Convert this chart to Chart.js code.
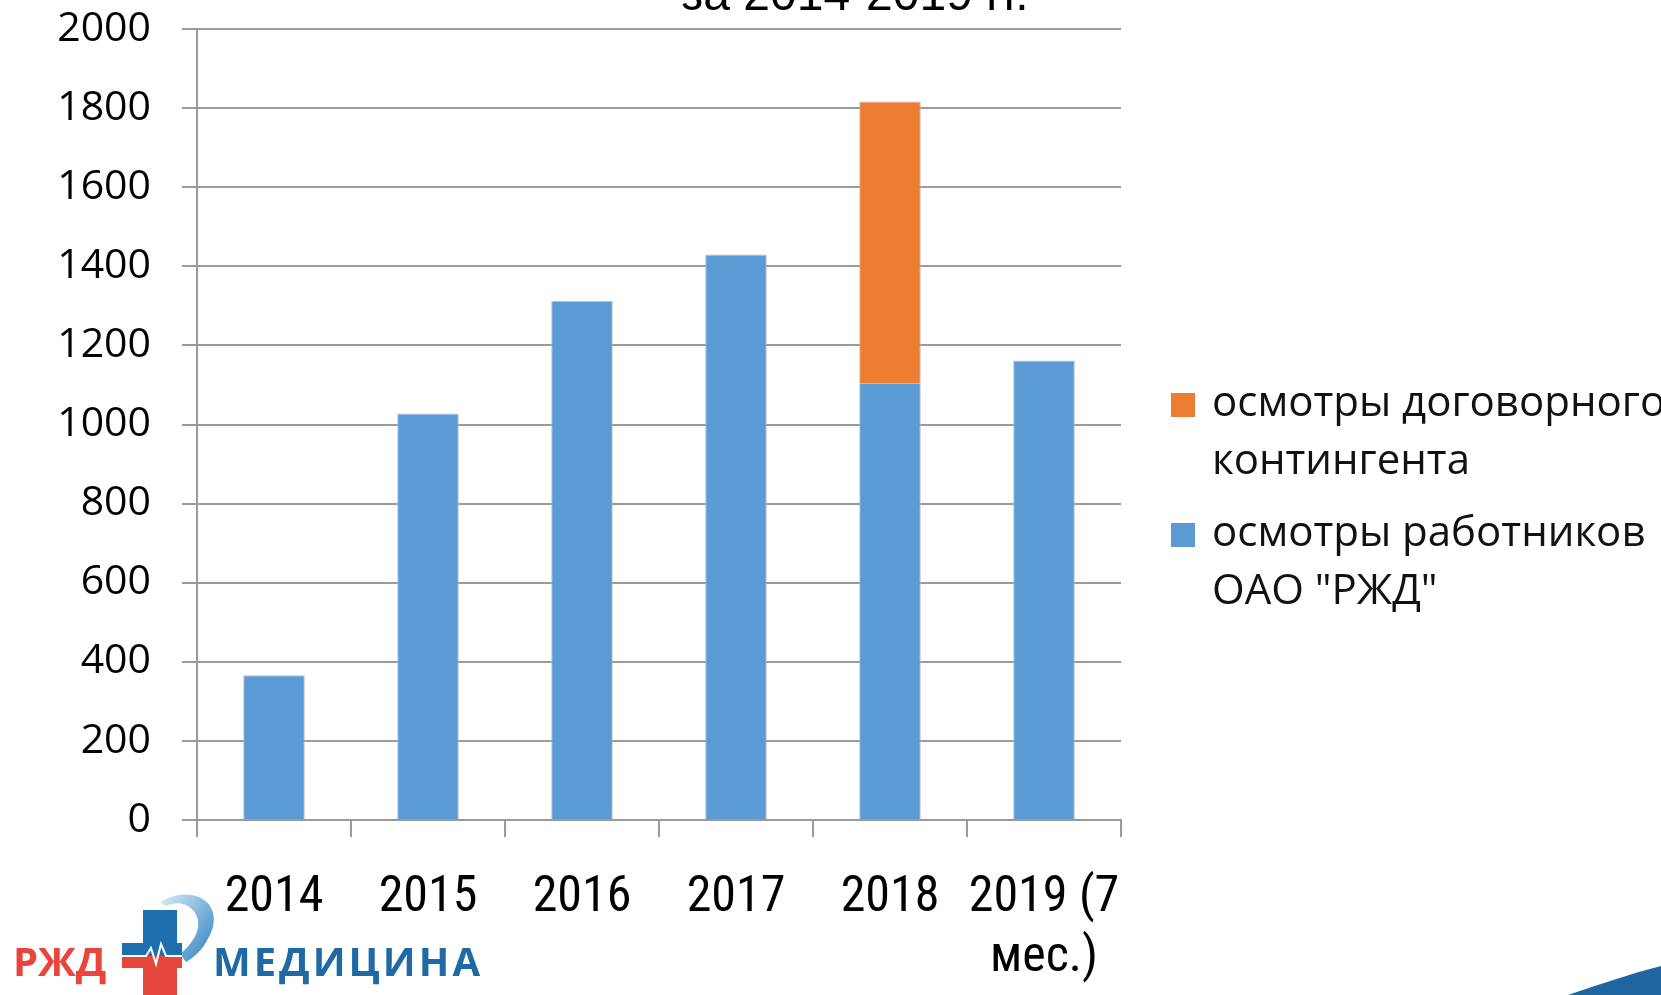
<!DOCTYPE html>
<html lang="ru">
<head>
<meta charset="utf-8">
<title>Осмотры 2014-2019</title>
<script src="https://cdn.jsdelivr.net/npm/chart.js@4.4.1/dist/chart.umd.min.js"></script>
<style>
  html, body { margin: 0; padding: 0; background: #fff; overflow: hidden; }
  #page { position: relative; width: 1661px; height: 995px; }
  #chart-wrap { position: absolute; left: 0; top: 0; width: 1661px; height: 995px; }
  #deco { position: absolute; left: 0; top: 0; pointer-events: none; }
  .legend-item { position: absolute; left: 1171px; font: 42px/58px "Open Sans", sans-serif; color: #111; white-space: pre; }
  .legend-item .sw { position: absolute; left: 0; width: 24px; height: 24px; }
  .legend-item .txt { margin-left: 41px; }
  .logo { position: absolute; top: 941px; font: bold 40px/40px "Open Sans", sans-serif; }
</style>
</head>
<body>
<div id="page">
  <div id="chart-wrap"><canvas id="chart"></canvas></div>
  <svg id="deco" width="1661" height="995">
    <defs>
      <linearGradient id="ribbon" x1="0" y1="0" x2="1" y2="1">
        <stop offset="0" stop-color="#d9ecf8"/>
        <stop offset="1" stop-color="#2a7fc0"/>
      </linearGradient>
    </defs>
    <!-- ribbon -->
    <path d="M160 902 C 190 884, 222 900, 212 930 C 205 948, 196 956, 186 962 L 180 954 C 192 944, 200 932, 198 920 C 194 904, 178 900, 166 906 Z" fill="url(#ribbon)"/>
    <!-- cross, blue upper half -->
    <rect x="143" y="910" width="34" height="46" fill="#1f6fae"/>
    <rect x="122" y="943" width="60" height="13" fill="#1f6fae"/>
    <!-- cross, red lower half -->
    <rect x="122" y="956" width="60" height="12" fill="#e5473d"/>
    <rect x="143" y="956" width="34" height="39" fill="#e5473d"/>
    <!-- pulse -->
    <polyline points="122,956 146,956 151,948 156,964 161,944 166,956 182,956" fill="none" stroke="#fff" stroke-width="2"/>
    <!-- bottom-right swoosh -->
    <path d="M1568 995 C 1600 984, 1630 974, 1661 966 L 1661 995 Z" fill="#1f66a0"/>
  </svg>
  <div class="logo" style="left:13px;color:#e8463c;">РЖД</div>
  <div class="logo" style="left:213px;color:#1f6aa5;letter-spacing:3px;">МЕДИЦИНА</div>
  <div id="legend"></div>
</div>
<script>
var YEARS = ['2014', '2015', '2016', '2017', '2018', ['2019 (7', 'мес.)']];
var RZD_STAFF = [366, 1028, 1312, 1430, 1104, 1162];
var CONTRACT = [null, null, null, null, 713, null];
var Y_MIN = 0, Y_MAX = 2000, Y_STEP = 200;

var LABEL_CONTRACT = 'осмотры договорного\nконтингента';
var LABEL_STAFF = 'осмотры работников\nОАО "РЖД"';
var BLUE = '#5b9bd5', ORANGE = '#ed7d31', GRID = '#9a9a9a';

/* title, cut at the top edge as in the slide */
var titlePlugin = {
  id: 'cutTitle',
  afterDraw: function (chart) {
    var ctx = chart.ctx;
    ctx.save();
    ctx.font = '48px "Liberation Sans", Arial, sans-serif';
    ctx.fillStyle = '#000';
    ctx.textAlign = 'center';
    ctx.textBaseline = 'alphabetic';
    ctx.fillText('за 2014-2019 гг.', 855, 10);
    ctx.restore();
  }
};

var chart = new Chart(document.getElementById('chart'), {
  type: 'bar',
  data: {
    labels: YEARS,
    datasets: [
      { label: LABEL_STAFF, data: RZD_STAFF, backgroundColor: BLUE, borderColor: 'rgba(185,185,185,0.9)',
        borderWidth: function (c) { return { left: 1, right: 1, top: CONTRACT[c.dataIndex] ? 0 : 1, bottom: 0 }; },
        borderSkipped: false },
      { label: LABEL_CONTRACT, data: CONTRACT, backgroundColor: ORANGE, borderColor: 'rgba(185,185,185,0.9)',
        borderWidth: { left: 1, right: 1, top: 1, bottom: 0 }, borderSkipped: false }
    ]
  },
  options: {
    responsive: true,
    maintainAspectRatio: false,
    animation: false,
    datasets: { bar: { categoryPercentage: 1, barPercentage: 0.4 } },
    layout: { padding: { top: 29, right: 540, left: 0, bottom: 0 } },
    plugins: { legend: { display: false }, tooltip: { enabled: false } },
    scales: {
      x: {
        stacked: true,
        afterFit: function (s) { s.height = 175; },
        grid: { offset: true, drawOnChartArea: false, drawTicks: true, tickLength: 17, color: GRID, lineWidth: 2 },
        border: { display: true, color: GRID, width: 2 },
        ticks: { autoSkip: false, maxRotation: 0, padding: 31, color: '#000',
                 font: { family: '"Liberation Sans Narrow", "Roboto Condensed", sans-serif', size: 50, lineHeight: 1.2 } }
      },
      y: {
        stacked: true,
        min: Y_MIN, max: Y_MAX,
        afterFit: function (s) { s.width = 197; s.paddingTop = 0; s.paddingBottom = 0; },
        grid: { color: GRID, lineWidth: 2, tickLength: 15, drawTicks: true },
        border: { display: true, color: GRID, width: 2 },
        ticks: { stepSize: Y_STEP, padding: 31, color: '#000',
                 callback: function (v) { return String(v); },
                 font: { family: '"Open Sans", sans-serif', size: 41 } }
      }
    }
  },
  plugins: [titlePlugin]
});

/* legend built from the datasets, contract first like the slide */
var legendTops = [371, 501];
var legendEl = document.getElementById('legend');
chart.data.datasets.slice().reverse().forEach(function (ds, i) {
  var item = document.createElement('div');
  item.className = 'legend-item';
  item.style.top = legendTops[i] + 'px';
  item.innerHTML = '<span class="sw" style="top:22px;background:' + ds.backgroundColor + '"></span>' +
    '<div class="txt"></div>';
  item.querySelector('.txt').textContent = ds.label;
  legendEl.appendChild(item);
});
</script>
</body>
</html>
